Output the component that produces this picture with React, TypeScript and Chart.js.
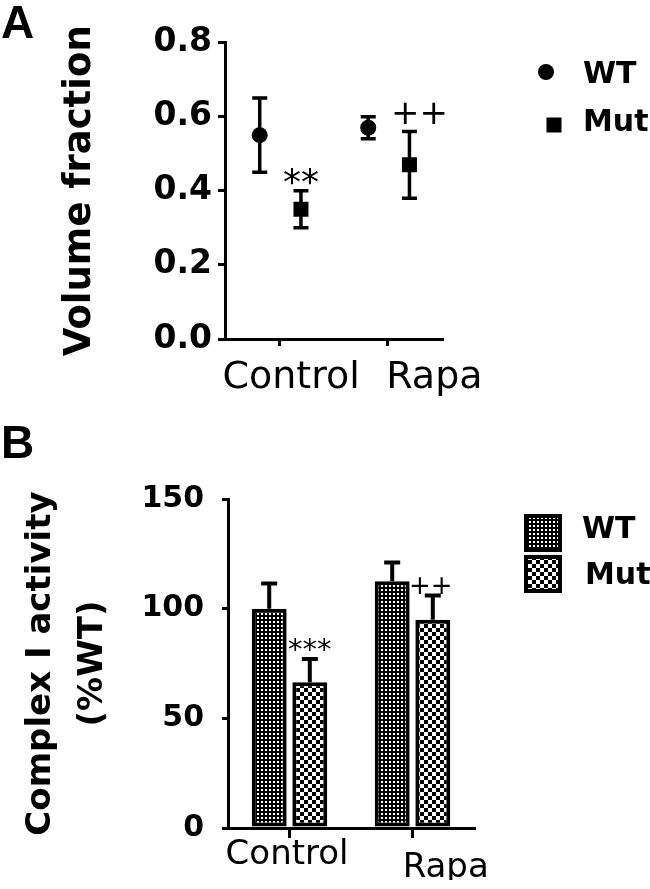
import React, { useEffect, useRef } from 'react';
import { Chart, registerables } from 'chart.js';

Chart.register(...registerables);

const categories = ['Control', 'Rapa'];
const seriesLabels = ['WT', 'Mut'];

// Panel A — volume fraction (mean ± SD)
const volumeWT = [0.55, 0.57];
const volumeWTErr = [0.1, 0.03];
const volumeMut = [0.35, 0.47];
const volumeMutErr = [0.05, 0.09];
const volumeSig = ['**', '++'];
const volumeTicks = [0, 0.2, 0.4, 0.6, 0.8];

// Panel B — Complex I activity (%WT), mean + SD
const activityWT = [100, 112.5];
const activityWTErr = [11.5, 8.5];
const activityMut = [66.5, 95];
const activityMutErr = [10.5, 11];
const activitySig = ['***', '++'];
const activityTicks = [0, 50, 100, 150];

const FONT = "'DejaVu Sans'";

function makePattern(kind: 'fine' | 'coarse'): CanvasPattern | string {
  const c = document.createElement('canvas');
  const size = kind === 'fine' ? 4 : 8;
  c.width = size;
  c.height = size;
  const g = c.getContext('2d');
  if (!g) return '#666';
  g.fillStyle = '#000';
  g.fillRect(0, 0, size, size);
  g.fillStyle = '#fff';
  if (kind === 'fine') {
    g.fillRect(1, 1, 2, 2);
  } else {
    g.fillRect(0, 0, 4, 4);
    g.fillRect(4, 4, 4, 4);
  }
  return g.createPattern(c, 'repeat') || '#666';
}

function drawErrorBars(chart: any, vals: number[][], errs: number[][], both: boolean, lw: number, half: number) {
  const ctx = chart.ctx;
  const y = chart.scales.y;
  ctx.save();
  ctx.strokeStyle = '#000';
  ctx.lineWidth = lw;
  ctx.lineCap = 'butt';
  vals.forEach((series, di) => {
    const meta = chart.getDatasetMeta(di);
    series.forEach((v, i) => {
      const el = meta.data[i];
      if (!el) return;
      const x = el.x;
      const top = y.getPixelForValue(v + errs[di][i]);
      const bot = both ? y.getPixelForValue(v - errs[di][i]) : y.getPixelForValue(v);
      ctx.beginPath();
      ctx.moveTo(x, top);
      ctx.lineTo(x, bot);
      ctx.moveTo(x - half, top);
      ctx.lineTo(x + half, top);
      if (both) {
        ctx.moveTo(x - half, bot);
        ctx.lineTo(x + half, bot);
      }
      ctx.stroke();
    });
  });
  ctx.restore();
}

function drawSig(chart: any, sig: string[], vals: number[], errs: number[], dx: number[], gap: number[], sizes: number[]) {
  const ctx = chart.ctx;
  const y = chart.scales.y;
  const meta = chart.getDatasetMeta(1);
  ctx.save();
  ctx.fillStyle = '#000';
  ctx.textAlign = 'center';
  ctx.textBaseline = 'alphabetic';
  sig.forEach((t, i) => {
    if (!t) return;
    const el = meta.data[i];
    const cx = el.x + dx[i];
    const cy = y.getPixelForValue(vals[i] + errs[i]) - gap[i];
    ctx.font = `${sizes[i]}px ${FONT}`;
    const shift = t.includes('*') ? 0.58 : 0.36;
    ctx.fillText(t, cx, cy + shift * sizes[i]);
  });
  ctx.restore();
}

export default function App() {
  const refA = useRef<HTMLCanvasElement | null>(null);
  const refB = useRef<HTMLCanvasElement | null>(null);

  useEffect(() => {
    Chart.defaults.font.family = FONT;
    Chart.defaults.color = '#000';
    const patFine = makePattern('fine');
    const patCoarse = makePattern('coarse');

    const offWT = -0.18;
    const offMut = 0.2;
    const labelPosA = [0.11, 1.43];
    const labelPosB = [-0.02, 1.27];
    const labelLineHeightB = [1.2, 2.0];

    const axisLine = { display: true, width: 3, color: '#000' };

    const decorA = {
      id: 'decorA',
      afterDatasetsDraw(chart: any) {
        drawErrorBars(chart, [volumeWT, volumeMut], [volumeWTErr, volumeMutErr], true, 3.5, 7.5);
        drawSig(chart, volumeSig, volumeMut, volumeMutErr, [0, 10], [18, 20], [36, 34]);
      },
      afterDraw(chart: any) {
        const ctx = chart.ctx;
        ctx.save();
        ctx.fillStyle = '#000';
        ctx.textAlign = 'left';
        ctx.textBaseline = 'alphabetic';
        ctx.font = "bold 46px 'Liberation Sans'";
        ctx.fillText('A', 1, 38);
        const ds = chart.data.datasets;
        ctx.font = `bold 30px ${FONT}`;
        ctx.textBaseline = 'middle';
        ctx.beginPath();
        ctx.arc(546, 72, 8, 0, Math.PI * 2);
        ctx.fill();
        ctx.fillText(ds[0].label, 583, 75);
        ctx.fillRect(554 - 7.5, 125 - 7.5, 15, 15);
        ctx.fillText(ds[1].label, 583, 123);
        ctx.restore();
      },
    };

    const chartA = new Chart(refA.current as HTMLCanvasElement, {
      type: 'scatter',
      data: {
        datasets: [
          {
            label: seriesLabels[0],
            data: volumeWT.map((v, i) => ({ x: i + offWT, y: v })),
            pointStyle: 'circle',
            pointRadius: 8,
            pointHoverRadius: 8,
            backgroundColor: '#000',
            borderColor: '#000',
            borderWidth: 0,
          },
          {
            label: seriesLabels[1],
            data: volumeMut.map((v, i) => ({ x: i + offMut, y: v })),
            pointStyle: 'rect',
            pointRadius: 10.6,
            pointHoverRadius: 10.6,
            backgroundColor: '#000',
            borderColor: '#000',
            borderWidth: 0,
          },
        ],
      },
      options: {
        responsive: false,
        animation: false,
        events: [],
        layout: { padding: { left: 0, right: 650 - 442, top: 42.5, bottom: 19 } },
        plugins: { legend: { display: false }, tooltip: { enabled: false } },
        scales: {
          x: {
            type: 'linear',
            position: 'bottom',
            weight: 0,
            offset: false,
            min: -0.5,
            max: 1.5,
            afterBuildTicks: (s: any) => {
              s.ticks = categories.map((_, i) => ({ value: i }));
            },
            afterFit: (s: any) => {
              s.height = 2;
            },
            ticks: { display: false },
            grid: { display: true, drawOnChartArea: false, drawTicks: true, tickLength: 7, lineWidth: 3, color: '#000' },
            border: axisLine,
          },
          xLabels: {
            type: 'linear',
            axis: 'x',
            position: 'bottom',
            weight: 1,
            offset: false,
            min: -0.5,
            max: 1.5,
            afterBuildTicks: (s: any) => {
              s.ticks = labelPosA.map((v) => ({ value: v }));
            },
            afterFit: (s: any) => {
              s.height = 60;
            },
            ticks: {
              callback: (_v: any, i: number) => categories[i],
              font: { family: FONT, size: 38 },
              padding: 14,
              maxRotation: 0,
              autoSkip: false,
              color: '#000',
            },
            grid: { display: false, drawTicks: false },
            border: { display: false },
          },
          y: {
            type: 'linear',
            position: 'left',
            min: 0,
            max: 0.8,
            afterBuildTicks: (s: any) => {
              s.ticks = volumeTicks.map((v) => ({ value: v }));
            },
            afterFit: (s: any) => {
              s.width = 225;
            },
            ticks: {
              callback: (v: any) => Number(v).toFixed(1),
              font: { family: FONT, size: 33, weight: 'bold' },
              padding: 6,
              color: '#000',
            },
            grid: { display: true, drawOnChartArea: false, drawTicks: true, tickLength: 7, lineWidth: 3, color: '#000' },
            border: axisLine,
            title: {
              display: true,
              text: 'Volume fraction',
              font: { family: FONT, size: 37, weight: 'bold' },
              padding: { top: 58, bottom: 0 },
              color: '#000',
            },
          },
        },
      } as any,
      plugins: [decorA],
    });

    const decorB = {
      id: 'decorB',
      afterDatasetsDraw(chart: any) {
        drawErrorBars(chart, [activityWT, activityMut], [activityWTErr, activityMutErr], false, 4, 8);
        drawSig(chart, activitySig, activityMut, activityMutErr, [0, -2], [17, 10.5], [29, 26]);
      },
      afterDraw(chart: any) {
        const ctx = chart.ctx;
        ctx.save();
        ctx.fillStyle = '#000';
        ctx.textAlign = 'left';
        ctx.textBaseline = 'alphabetic';
        ctx.font = "bold 46px 'Liberation Sans'";
        ctx.fillText('B', 1, 38);
        const ds = chart.data.datasets;
        const boxes = [94, 135];
        const texts = [110, 156];
        const tx = [582, 585];
        ctx.font = `bold 30px ${FONT}`;
        ctx.textBaseline = 'middle';
        ds.forEach((d: any, i: number) => {
          ctx.fillStyle = d.backgroundColor;
          ctx.fillRect(524, boxes[i], 38, 38);
          ctx.strokeStyle = '#000';
          ctx.lineWidth = 4;
          ctx.strokeRect(526, boxes[i] + 2, 34, 34);
          ctx.fillStyle = '#000';
          ctx.fillText(d.label, tx[i], texts[i]);
        });
        ctx.restore();
      },
    };

    const chartB = new Chart(refB.current as HTMLCanvasElement, {
      type: 'bar',
      data: {
        labels: categories,
        datasets: [
          {
            label: seriesLabels[0],
            data: activityWT,
            backgroundColor: patFine as any,
            borderColor: '#000',
            borderWidth: 4,
            borderSkipped: false,
            categoryPercentage: 0.66,
            barPercentage: 0.86,
          },
          {
            label: seriesLabels[1],
            data: activityMut,
            backgroundColor: patCoarse as any,
            borderColor: '#000',
            borderWidth: 4,
            borderSkipped: false,
            categoryPercentage: 0.66,
            barPercentage: 0.86,
          },
        ],
      },
      options: {
        responsive: false,
        animation: false,
        events: [],
        layout: { padding: { left: 0, right: 650 - 474, top: 79, bottom: 9 } },
        plugins: { legend: { display: false }, tooltip: { enabled: false } },
        scales: {
          x: {
            type: 'category',
            position: 'bottom',
            weight: 0,
            offset: true,
            afterFit: (s: any) => {
              s.height = 2;
            },
            ticks: { display: false },
            grid: { offset: false, display: true, drawOnChartArea: false, drawTicks: true, tickLength: 10, lineWidth: 3, color: '#000' },
            border: axisLine,
          },
          xLabels: {
            type: 'linear',
            axis: 'x',
            position: 'bottom',
            weight: 1,
            offset: false,
            min: -0.5,
            max: 1.5,
            afterBuildTicks: (s: any) => {
              s.ticks = labelPosB.map((v) => ({ value: v }));
            },
            afterFit: (s: any) => {
              s.height = 50;
            },
            ticks: {
              callback: (_v: any, i: number) => categories[i],
              font: (c: any) => ({ family: FONT, size: 34, lineHeight: labelLineHeightB[c.index] ?? 1.2 }),
              padding: 4.6,
              maxRotation: 0,
              autoSkip: false,
              color: '#000',
            },
            grid: { display: false, drawTicks: false, offset: false },
            border: { display: false },
          },
          y: {
            type: 'linear',
            position: 'left',
            min: 0,
            max: 150,
            afterBuildTicks: (s: any) => {
              s.ticks = activityTicks.map((v) => ({ value: v }));
            },
            afterFit: (s: any) => {
              s.width = 228;
            },
            ticks: {
              callback: (v: any) => String(v),
              font: { family: FONT, size: 30, weight: 'bold' },
              padding: 18,
              color: '#000',
            },
            grid: { display: true, drawOnChartArea: false, drawTicks: true, tickLength: 6, lineWidth: 3, color: '#000' },
            border: axisLine,
            title: {
              display: true,
              text: ['Complex I activity', '(%WT)'],
              font: { family: FONT, size: 34, weight: 'bold', lineHeight: 1.53 },
              padding: { top: 15, bottom: 0 },
              color: '#000',
            },
          },
        },
      } as any,
      plugins: [decorB],
    });

    return () => {
      chartA.destroy();
      chartB.destroy();
    };
  }, []);

  return (
    <div style={{ position: 'absolute', left: 0, top: 0, width: 650, height: 889, background: '#fff' }}>
      <canvas ref={refA} width={650} height={420} style={{ position: 'absolute', left: 0, top: 0, display: 'block' }} />
      <canvas ref={refB} width={650} height={469} style={{ position: 'absolute', left: 0, top: 420, display: 'block' }} />
    </div>
  );
}
